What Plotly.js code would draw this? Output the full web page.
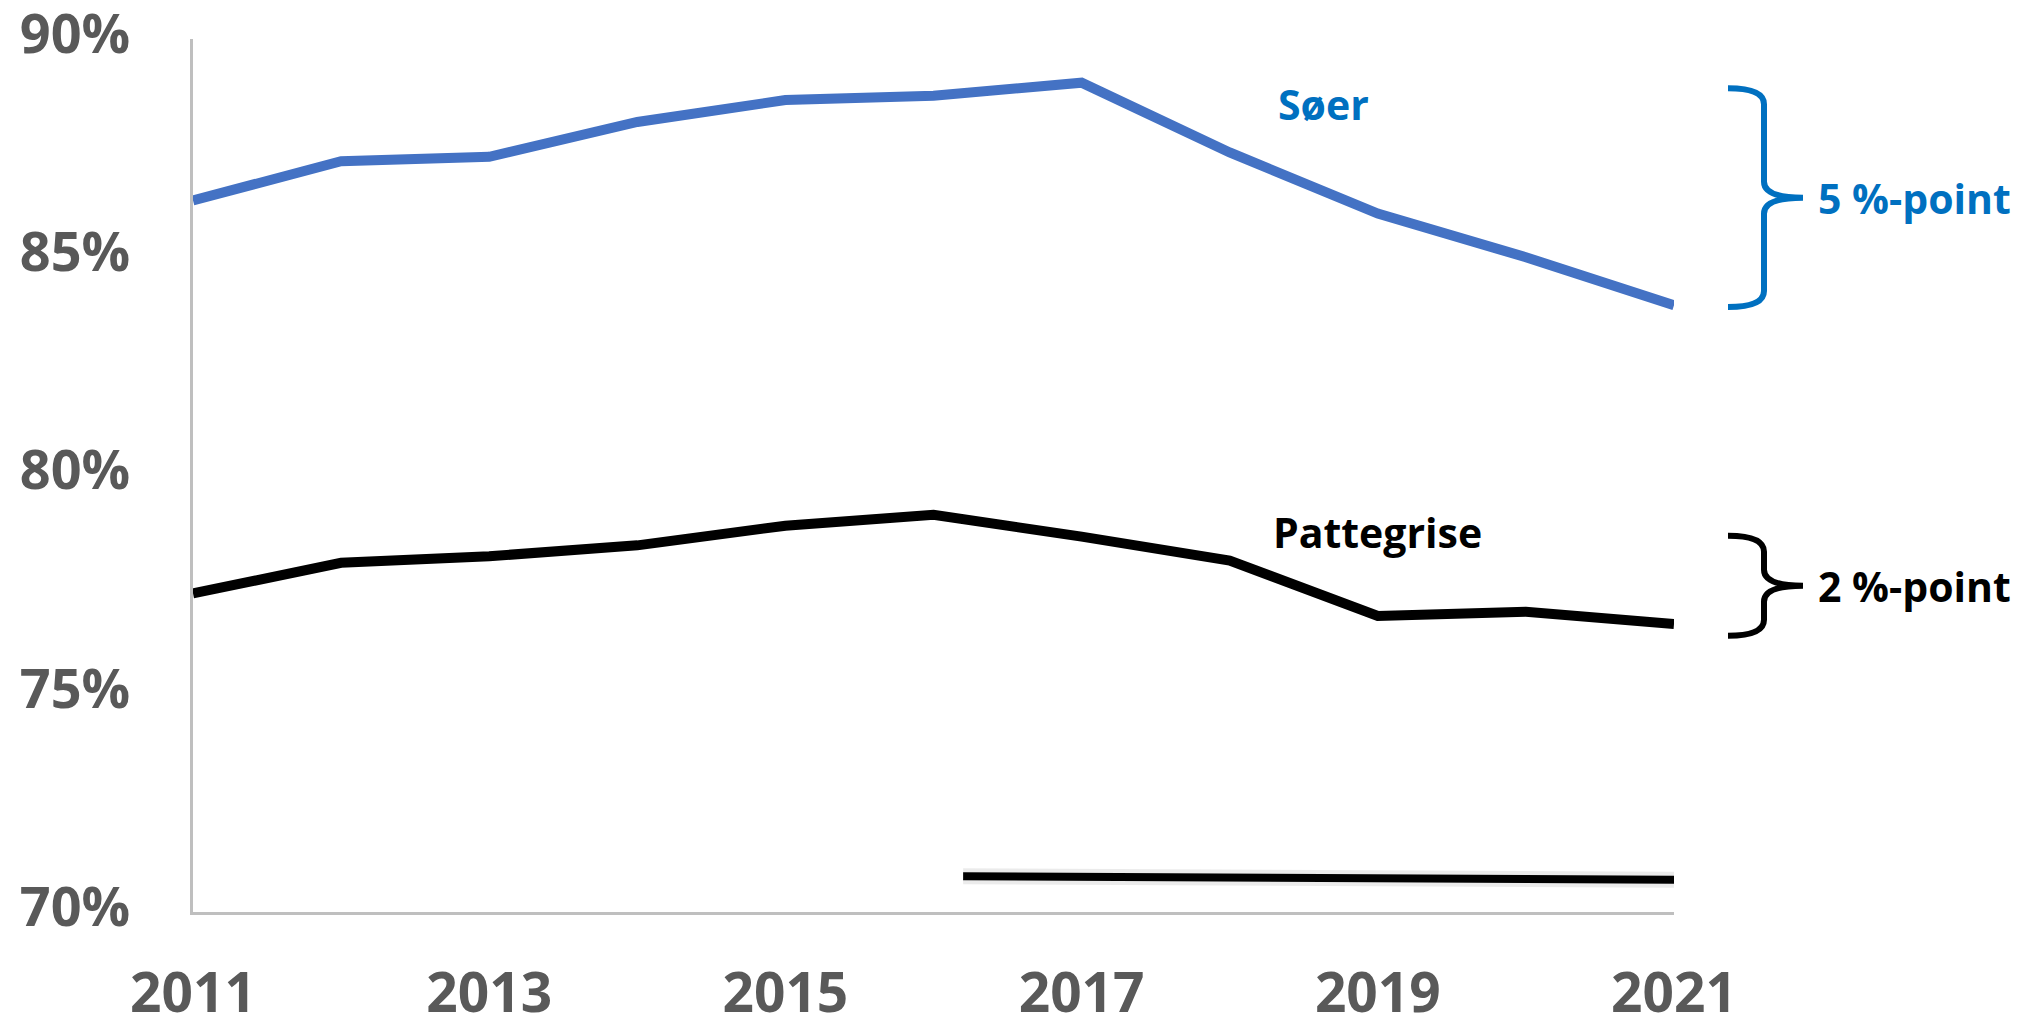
<!DOCTYPE html>
<html>
<head>
<meta charset="utf-8">
<script src="https://cdn.plot.ly/plotly-3.0.1.min.js"></script>
<style>
  html, body { margin: 0; padding: 0; background: #ffffff; }
  #chart { width: 2019px; height: 1023px; }
</style>
</head>
<body>
<div id="chart"></div>
<script>
// ---- data ----
var years = [2011, 2012, 2013, 2014, 2015, 2016, 2017, 2018, 2019, 2020, 2021];
var soer = [86.3, 87.2, 87.3, 88.1, 88.6, 88.7, 89.0, 87.4, 86.0, 85.0, 83.9];
var pattegrise = [77.3, 78.0, 78.15, 78.4, 78.85, 79.1, 78.6, 78.05, 76.78, 76.88, 76.6];
var extraX = [2016.2, 2021];
var extraY = [70.82, 70.74];
var xTickVals = [2011, 2013, 2015, 2017, 2019, 2021];
var xTickText = ['2011', '2013', '2015', '2017', '2019', '2021'];
var yTickVals = [70, 75, 80, 85, 90];
var yTickText = ['70%', '75%', '80%', '85%', '90%'];
var soerLabel = 'Søer';
var pattLabel = 'Pattegrise';
var soerDiff = '5 %-point';
var pattDiff = '2 %-point';

// ---- layout geometry ----
var W = 2019, H = 1023;
var M = {l: 193, r: 345, t: 39, b: 111};
var plotW = W - M.l - M.r, plotH = H - M.t - M.b;
var yMin = 70, yMax = 90;
function px2paperX(x) { return (x - M.l) / plotW; }
function val2paperY(v) { return (v - yMin) / (yMax - yMin); }
function pxOffsetY(p) { return p / plotH; }

var BLUE_LINE = '#4472C4';
var BLUE_TEXT = '#0070C0';
var GRAY = '#595959';
var FONT = 'Open Sans, Liberation Sans, sans-serif';

function brace(x0, xv, xtip, vTop, vBot, color) {
  var X0 = px2paperX(x0), XV = px2paperX(xv), XT = px2paperX(xtip);
  var yT = val2paperY(vTop), yB = val2paperY(vBot);
  var yM = (yT + yB) / 2;
  var r = pxOffsetY(16);
  var p = 'M ' + X0 + ',' + yT +
          ' Q ' + XV + ',' + yT + ' ' + XV + ',' + (yT - r) +
          ' L ' + XV + ',' + (yM + r) +
          ' Q ' + XV + ',' + yM + ' ' + XT + ',' + yM +
          ' Q ' + XV + ',' + yM + ' ' + XV + ',' + (yM - r) +
          ' L ' + XV + ',' + (yB + r) +
          ' Q ' + XV + ',' + yB + ' ' + X0 + ',' + yB;
  return {type: 'path', xref: 'paper', yref: 'paper', path: p,
          line: {color: color, width: 6}, fillcolor: 'rgba(0,0,0,0)'};
}

var traces = [
  {x: extraX, y: extraY, mode: 'lines', hoverinfo: 'skip',
   line: {color: 'rgba(0,0,0,0.08)', width: 16}},
  {x: extraX, y: extraY, mode: 'lines', line: {color: '#000000', width: 8}},
  {x: years, y: pattegrise, mode: 'lines', line: {color: '#000000', width: 10}},
  {x: years, y: soer, mode: 'lines', line: {color: BLUE_LINE, width: 10}}
];

var soerTop = 88.87, soerBot = 83.86;
var pattTop = 78.62, pattBot = 76.33;

var layout = {
  width: W, height: H,
  margin: {l: M.l, r: M.r, t: M.t, b: M.b, pad: 0},
  paper_bgcolor: '#ffffff', plot_bgcolor: '#ffffff',
  showlegend: false,
  xaxis: {
    range: [2011, 2021], tickmode: 'array', tickvals: xTickVals, ticktext: xTickText,
    showgrid: false, zeroline: false, showline: true, linecolor: '#BFBFBF', linewidth: 3,
    ticks: '', ticklabelstandoff: 31, ticklabeloverflow: 'allow',
    tickfont: {family: FONT, size: 55, color: GRAY, weight: 'bold'}
  },
  yaxis: {
    range: [yMin, yMax], tickmode: 'array', tickvals: yTickVals, ticktext: yTickText,
    showgrid: false, zeroline: false, showline: true, linecolor: '#BFBFBF', linewidth: 3,
    ticks: '', ticklabelstandoff: 49, ticklabelshift: -5, ticklabeloverflow: 'allow',
    tickfont: {family: FONT, size: 54, color: GRAY, weight: 'bold'}
  },
  shapes: [
    brace(1728, 1764, 1803, soerTop, soerBot, BLUE_TEXT),
    brace(1728, 1764, 1803, pattTop, pattBot, '#000000')
  ],
  annotations: [
    {x: 2018.63, y: 88.52, xref: 'x', yref: 'y', text: soerLabel, showarrow: false,
     xanchor: 'center', yanchor: 'middle',
     font: {family: FONT, size: 41, color: BLUE_TEXT, weight: 'bold'}},
    {x: 2019.0, y: 78.7, xref: 'x', yref: 'y', text: pattLabel, showarrow: false,
     xanchor: 'center', yanchor: 'middle',
     font: {family: FONT, size: 41, color: '#000000', weight: 'bold'}},
    {x: px2paperX(1816), y: val2paperY((soerTop + soerBot) / 2), xref: 'paper', yref: 'paper',
     text: soerDiff, showarrow: false, xanchor: 'left', yanchor: 'middle',
     font: {family: FONT, size: 41, color: BLUE_TEXT, weight: 'bold'}},
    {x: px2paperX(1816), y: val2paperY((pattTop + pattBot) / 2), xref: 'paper', yref: 'paper',
     text: pattDiff, showarrow: false, xanchor: 'left', yanchor: 'middle',
     font: {family: FONT, size: 41, color: '#000000', weight: 'bold'}}
  ]
};

Plotly.newPlot('chart', traces, layout, {staticPlot: true, displayModeBar: false});
</script>
</body>
</html>
